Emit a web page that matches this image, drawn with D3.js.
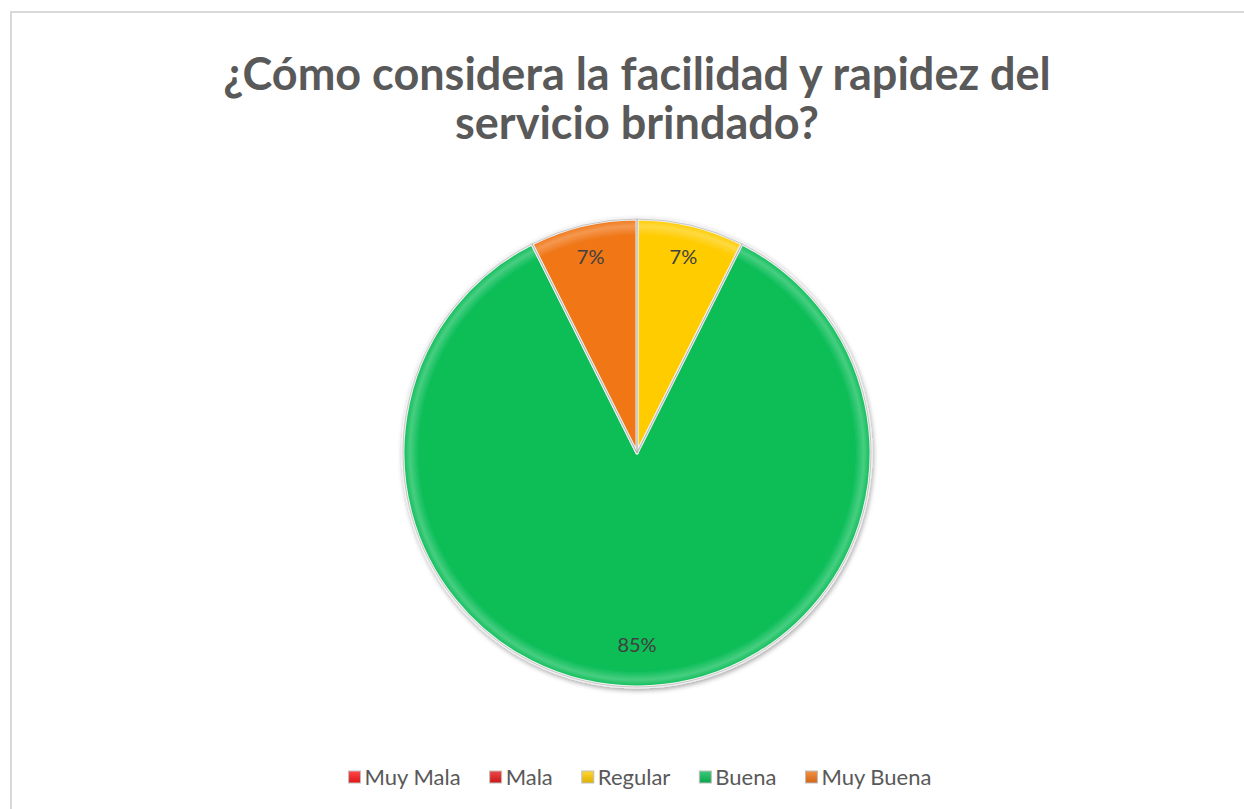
<!DOCTYPE html>
<html>
<head>
<meta charset="utf-8">
<script src="https://cdn.jsdelivr.net/npm/d3@7/dist/d3.min.js"></script>
<style>
  html, body { margin: 0; padding: 0; background: #fff; }
  svg { display: block; }
</style>
</head>
<body>
<svg id="chart" width="1244" height="809"></svg>
<script>
// Survey answers, in the order they go round the pie (clockwise from 12 o'clock)
const categories = ["Muy Mala", "Mala", "Regular", "Buena", "Muy Buena"];
const responses = [0, 0, 2, 23, 2];
const sliceColors = ["#ff1a1a", "#e81a1a", "#ffcc00", "#0abd57", "#f07616"];
const titleLines = ["¿Cómo considera la facilidad y rapidez del", "servicio brindado?"];

const svg = d3.select("#chart");
const W = 1244, H = 809;
const FONT = "Lato, 'Open Sans', 'Liberation Sans', sans-serif";

const defs = svg.append("defs");
const shadow = defs.append("filter").attr("id", "shadow")
  .attr("x", "-10%").attr("y", "-10%").attr("width", "120%").attr("height", "120%");
shadow.append("feGaussianBlur").attr("in", "SourceAlpha").attr("stdDeviation", 2.5);
shadow.append("feOffset").attr("dx", 1).attr("dy", 2).attr("result", "off");
shadow.append("feComponentTransfer").append("feFuncA").attr("type", "linear").attr("slope", 0.35);
const merge = shadow.append("feMerge");
merge.append("feMergeNode");
merge.append("feMergeNode").attr("in", "SourceGraphic");

// gentle bevel: a lighter rim near the outer edge of each slice
sliceColors.forEach((c, i) => {
  const g = defs.append("radialGradient").attr("id", "bev" + i)
    .attr("gradientUnits", "userSpaceOnUse").attr("cx", 0).attr("cy", 0).attr("r", 234);
  const light = d3.interpolateRgb(c, "#ffffff")(0.25);
  g.append("stop").attr("offset", "0%").attr("stop-color", c);
  g.append("stop").attr("offset", "93%").attr("stop-color", c);
  g.append("stop").attr("offset", "97%").attr("stop-color", light);
  g.append("stop").attr("offset", "100%").attr("stop-color", c);
});
// legend swatch gradients
sliceColors.forEach((c, i) => {
  const g = defs.append("linearGradient").attr("id", "sw" + i)
    .attr("x1", 0).attr("y1", 0).attr("x2", 0).attr("y2", 1);
  g.append("stop").attr("offset", "0%").attr("stop-color", d3.interpolateRgb(c, "#fff")(0.2));
  g.append("stop").attr("offset", "100%").attr("stop-color", d3.color(c).darker(0.4));
});

// chart frame
svg.append("rect").attr("x", 11).attr("y", 12).attr("width", W).attr("height", H)
  .attr("fill", "#fff").attr("stroke", "#d9d9d9").attr("stroke-width", 2);

// title
const title = svg.append("text").attr("text-anchor", "middle")
  .attr("font-family", FONT).attr("font-weight", "bold").attr("font-size", 45)
  .attr("fill", "#595959");
titleLines.forEach((t, i) => {
  title.append("tspan").attr("x", 637).attr("y", 90 + i * 49).text(t);
});

// pie
const cx = 637, cy = 453, R = 234;
const pie = d3.pie().value(d => d).sort(null);
const arcs = pie(responses);
const arc = d3.arc().innerRadius(0).outerRadius(R);
const total = d3.sum(responses);

const gPie = svg.append("g").attr("transform", `translate(${cx},${cy})`);
gPie.append("g").attr("filter", "url(#shadow)")
  .selectAll("path").data(arcs.filter(a => a.value > 0)).join("path")
  .attr("d", arc)
  .attr("fill", d => `url(#bev${d.index})`)
  .attr("stroke", "#f2f2f2").attr("stroke-width", 3).attr("stroke-linejoin", "round");
// thin grey seam inside the white dividers
gPie.append("g").selectAll("path").data(arcs.filter(a => a.value > 0)).join("path")
  .attr("d", arc)
  .attr("fill", "none")
  .attr("stroke", "#a6a6a6").attr("stroke-width", 0.8).attr("stroke-opacity", 0.7);

// percentage labels (large slices get their label a little further in)
const labelPos = d => {
  const r = (d.endAngle - d.startAngle) > Math.PI ? R * 0.82 : R * 0.86;
  return d3.arc().innerRadius(r).outerRadius(r).centroid(d);
};
gPie.append("g").selectAll("text").data(arcs.filter(a => a.value > 0)).join("text")
  .attr("transform", d => `translate(${labelPos(d)})`)
  .attr("text-anchor", "middle").attr("dy", "0.35em")
  .attr("font-family", FONT).attr("font-size", 20).attr("fill", "#404040")
  .text(d => Math.round(d.value / total * 100) + "%");

// legend
const legend = svg.append("g").attr("font-family", FONT).attr("font-size", 22).attr("fill", "#595959");
const items = legend.selectAll("g").data(categories).join("g");
items.append("rect").attr("x", 0).attr("y", -6).attr("width", 12).attr("height", 12)
  .attr("fill", (d, i) => `url(#sw${i})`).attr("stroke", "#bfbfbf").attr("stroke-width", 1);
items.append("text").attr("x", 16).attr("dy", "0.35em").text(d => d);
let xPos = 0;
const widths = [];
items.each(function () {
  widths.push(this.getBBox().width);
});
const gap = 29;
const totalW = d3.sum(widths) + gap * (widths.length - 1);
xPos = 640 - totalW / 2;
items.attr("transform", (d, i) => {
  const x = xPos;
  xPos += widths[i] + gap;
  return `translate(${x},777)`;
});
</script>
</body>
</html>
